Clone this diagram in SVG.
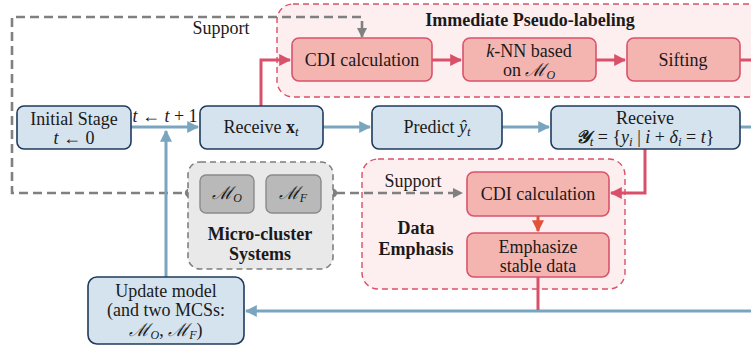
<svg xmlns="http://www.w3.org/2000/svg" width="751" height="346" viewBox="0 0 751 346">
<defs>
<style>
text{font-family:"Liberation Serif","DejaVu Serif",serif;font-size:18px;fill:#1a1a1a;text-anchor:middle}
.b{font-weight:bold}
.i{font-style:italic}
.m{font-family:"DejaVu Serif","Liberation Serif",serif;font-style:italic}
.blue{fill:#d5e3ee;stroke:#1f3b5c;stroke-width:1.6}
.pink{fill:#f4b5b1;stroke:#d9536b;stroke-width:1.6}
.region{fill:#fdeeef;stroke:#dc4f69;stroke-width:1.4;stroke-dasharray:6 4}
.mcs{fill:#e9e9ea;stroke:#7f7f7f;stroke-width:1.6;stroke-dasharray:6 4}
.mbox{fill:#b9b9b9;stroke:#8a8a8a;stroke-width:1.4}
.cb{fill:none;stroke:#7aa5bf;stroke-width:3}
.cr{fill:none;stroke:#d9506a;stroke-width:3}
.cg{fill:none;stroke:#808080;stroke-width:2.6;stroke-dasharray:9 5}
</style>
<marker id="ab" viewBox="0 0 10 10" refX="9" refY="5" markerWidth="4" markerHeight="4" orient="auto" markerUnits="strokeWidth"><path d="M0,0L10,5L0,10z" fill="#7aa5bf"/></marker>
<marker id="ar" viewBox="0 0 10 10" refX="9" refY="5" markerWidth="4" markerHeight="4" orient="auto" markerUnits="strokeWidth"><path d="M0,0L10,5L0,10z" fill="#d9506a"/></marker>
<marker id="ao" viewBox="0 0 10 10" refX="9" refY="5" markerWidth="4" markerHeight="4" orient="auto" markerUnits="strokeWidth"><path d="M0,0L10,5L0,10z" fill="#e0533a"/></marker>
<marker id="ag" viewBox="0 0 10 10" refX="9" refY="5" markerWidth="4" markerHeight="4" orient="auto" markerUnits="strokeWidth"><path d="M0,0L10,5L0,10z" fill="#808080"/></marker>
</defs>

<g id="region-ipl">
<rect class="region" x="277" y="4" width="490" height="93" rx="16"/>
<text class="b" x="530" y="26">Immediate Pseudo-labeling</text>
</g>
<g id="region-de">
<rect class="region" x="362" y="159" width="263" height="130" rx="16"/>
<text class="b" x="416" y="234">Data</text>
<text class="b" x="416" y="255">Emphasis</text>
</g>

<g id="connectors">
<path class="cg" d="M362,30 V17 H12 V193 H186"/>
<path d="M362,30 V37" stroke="#808080" stroke-width="2.6" marker-end="url(#ag)"/>
<path class="cg" d="M336,193 H462" marker-end="url(#ag)"/>
<circle cx="189" cy="193" r="4.2" fill="#808080"/>
<circle cx="333" cy="193" r="4.2" fill="#808080"/>
<path class="cb" d="M131,127 H198" marker-end="url(#ab)"/>
<path class="cb" d="M166,277 V131" marker-end="url(#ab)"/>
<path class="cb" d="M323,127 H370" marker-end="url(#ab)"/>
<path class="cb" d="M502,127 H549" marker-end="url(#ab)"/>
<path class="cb" d="M740,127 H751"/>
<path class="cb" d="M751,311 H246" marker-end="url(#ab)"/>
<path class="cr" d="M261,106 V60 H290" marker-end="url(#ar)"/>
<path class="cr" d="M432,60 H461" marker-end="url(#ar)"/>
<path class="cr" d="M596,60 H625" marker-end="url(#ar)"/>
<path class="cr" d="M740,60 H751"/>
<path class="cr" d="M645,149 V193 H611" marker-end="url(#ar)"/>
<path d="M538,216 V231" stroke="#e0533a" stroke-width="3" marker-end="url(#ao)"/>
<path class="cr" d="M538,277 V310"/>
<text x="165" y="122"><tspan class="i">t</tspan> ← <tspan class="i">t</tspan> + 1</text>
<text x="221" y="34">Support</text>
<text x="413" y="187">Support</text>
</g>

<g id="initial-stage">
<rect class="blue" x="17" y="106" width="114" height="43" rx="7"/>
<text x="74" y="125">Initial Stage</text>
<text x="74" y="144"><tspan class="i">t</tspan> ← 0</text>
</g>
<g id="receive-x">
<rect class="blue" x="200" y="106" width="123" height="43" rx="7"/>
<text x="261" y="133">Receive <tspan class="b">x</tspan><tspan class="i" font-size="13" dy="3">t</tspan></text>
</g>
<g id="predict">
<rect class="blue" x="372" y="106" width="130" height="43" rx="7"/>
<text x="437" y="133">Predict <tspan class="i">ŷ</tspan><tspan class="i" font-size="13" dy="3">t</tspan></text>
</g>
<g id="receive-y">
<rect class="blue" x="551" y="106" width="189" height="43" rx="7"/>
<text x="645" y="124">Receive</text>
<text x="645" y="143"><tspan class="b i">𝒴</tspan><tspan class="i" font-size="13" dy="3">t</tspan><tspan dy="-3"> = {</tspan><tspan class="i">y</tspan><tspan class="i" font-size="13" dy="3">i</tspan><tspan dy="-3"> | </tspan><tspan class="i">i</tspan><tspan> + </tspan><tspan class="i">δ</tspan><tspan class="i" font-size="13" dy="3">i</tspan><tspan dy="-3"> = </tspan><tspan class="i">t</tspan><tspan>}</tspan></text>
</g>
<g id="cdi-top">
<rect class="pink" x="292" y="38" width="140" height="43" rx="7"/>
<text x="362" y="66">CDI calculation</text>
</g>
<g id="knn">
<rect class="pink" x="463" y="38" width="133" height="43" rx="7"/>
<text x="529" y="57"><tspan class="i">k</tspan>-NN based</text>
<text x="529" y="76">on <tspan class="m">ℳ</tspan><tspan class="i" font-size="12" dy="3">O</tspan></text>
</g>
<g id="sifting">
<rect class="pink" x="627" y="38" width="113" height="43" rx="7"/>
<text x="683" y="66">Sifting</text>
</g>
<g id="cdi-low">
<rect class="pink" x="467" y="172" width="142" height="44" rx="7"/>
<text x="538" y="200">CDI calculation</text>
</g>
<g id="emphasize">
<rect class="pink" x="467" y="233" width="142" height="44" rx="7"/>
<text x="538" y="253">Emphasize</text>
<text x="538" y="272">stable data</text>
</g>
<g id="mcs">
<rect class="mcs" x="188" y="162" width="145" height="107" rx="12"/>
<rect class="mbox" x="200" y="175" width="54" height="38" rx="6"/>
<rect class="mbox" x="266" y="175" width="55" height="38" rx="6"/>
<text x="227" y="199"><tspan class="m">ℳ</tspan><tspan class="i" font-size="12" dy="3">O</tspan></text>
<text x="293" y="199"><tspan class="m">ℳ</tspan><tspan class="i" font-size="12" dy="3">F</tspan></text>
<text class="b" x="260" y="240">Micro-cluster</text>
<text class="b" x="260" y="260">Systems</text>
</g>
<g id="update">
<rect class="blue" x="88" y="277" width="156" height="67" rx="9"/>
<text x="166" y="297">Update model</text>
<text x="166" y="316">(and two MCSs:</text>
<text x="166" y="336"><tspan class="m">ℳ</tspan><tspan class="i" font-size="12" dy="3">O</tspan><tspan dy="-3">, </tspan><tspan class="m">ℳ</tspan><tspan class="i" font-size="12" dy="3">F</tspan><tspan dy="-3">)</tspan></text>
</g>
</svg>
